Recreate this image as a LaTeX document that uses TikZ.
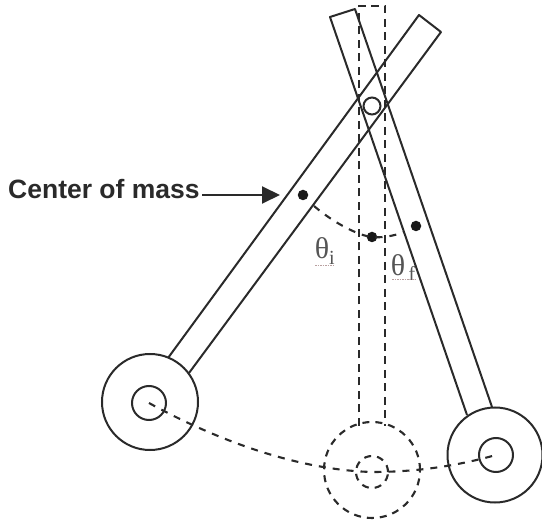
\documentclass[tikz,border=0pt]{standalone}
\usepackage{fontspec}
\setmainfont{Liberation Sans}
\newfontfamily\thetafont{Liberation Serif}
\usetikzlibrary{arrows.meta}
\definecolor{ink}{HTML}{2A2A2A}
\definecolor{squig}{HTML}{B9A0A0}
\begin{document}
\begin{tikzpicture}[x=1pt,y=-1pt,
  solidline/.style={draw=ink,line width=2pt},
  dashline/.style={draw=ink,line width=2.4pt,dash pattern=on 8pt off 5.5pt},
  curvedash/.style={draw=ink,line width=2.1pt,dash pattern=on 7pt off 7pt},
  wheel/.style={circle,solidline,inner sep=0pt,outer sep=0pt,minimum size=#1},
  dashwheel/.style={circle,draw=ink,line width=2.1pt,dash pattern=on 7pt off 6pt,inner sep=0pt,outer sep=0pt,minimum size=#1},
  massdot/.style={circle,fill=black!90,inner sep=0pt,minimum size=10.5pt},
  anglelabel/.style={inner sep=0pt,text=ink!80},
  squiggle/.style={draw=squig,line width=0.8pt,dash pattern=on 1.5pt off 1pt}]
\useasboundingbox (0,0) rectangle (542,524);
% coordinates
\coordinate (LA) at (168,358);
\coordinate (LB) at (189,373);
\coordinate (LC) at (441,32);
\coordinate (LD) at (419,15);
\coordinate (RA) at (467,415);
\coordinate (RB) at (492,407);
\coordinate (RC) at (355,9);
\coordinate (RD) at (330,17);
\coordinate (DA) at (359,426);
\coordinate (DB) at (385,426);
\coordinate (DC) at (385,6);
\coordinate (DD) at (359,6);
\coordinate (arrowstart) at (202,195);
\coordinate (arrowtip) at (280,195);
\coordinate (arcstart) at (314,206);
\coordinate (arcend) at (404,232);
% dashed bar and wheels
\draw[dashline] (DA) -- (DD) -- (DC) -- (DB);
\node[dashwheel=96pt] (dw) at (372,470) {};
\node[dashwheel=32pt] (dh) at (372,472) {};
% left bar
\draw[solidline,line join=round] (LA) -- (LD) -- (LC) -- (LB);
\node[wheel=96pt] (lw) at (150,402) {};
\node[wheel=34pt] (lh) at (149,403) {};
% right bar
\draw[solidline,line join=round] (RA) -- (RD) -- (RC) -- (RB);
\node[wheel=95pt] (rw) at (495,455) {};
\node[wheel=34pt] (rh) at (496,455) {};
% pivot
\node[wheel=17pt] (pivot) at (372,106) {};
% mass points
\node[massdot] (ml) at (303,195) {};
\node[massdot] (mc) at (372,237) {};
\node[massdot] (mr) at (416,226) {};
% swing paths
\draw[curvedash] (arcstart) .. controls (335,224) and (360,236) .. (mc.center) .. controls (382,238) and (394,236) .. (arcend);
\draw[curvedash] (lh.center) .. controls (220,442) and (300,470) .. (dh.center) .. controls (420,472) and (460,465) .. (rh.center);
% label
\node[anchor=west,inner sep=0pt,text=ink,font=\fontsize{26.5pt}{28pt}\selectfont\bfseries] (com) at (8,189) {Center of mass};
\draw[draw=ink,line width=2pt,-{Triangle[length=18pt,width=17pt]}] (arrowstart) -- (arrowtip);
% angle labels
\node[anchor=center,anglelabel,font=\thetafont\fontsize{30pt}{32pt}\selectfont] (ti) at (322,248) {θ};
\node[anchor=center,anglelabel,font=\thetafont\fontsize{20pt}{22pt}\selectfont] (tis) at (332,258) {i};
\node[anchor=center,anglelabel,font=\thetafont\fontsize{30pt}{32pt}\selectfont] (tf) at (398,265) {θ};
\node[anchor=center,anglelabel,font=\thetafont\fontsize{20pt}{22pt}\selectfont] (tfs) at (412,273) {f};
\draw[squiggle] (315,265) -- (335,265);
\draw[squiggle] (392,279) -- (415,279);
\end{tikzpicture}
\end{document}
